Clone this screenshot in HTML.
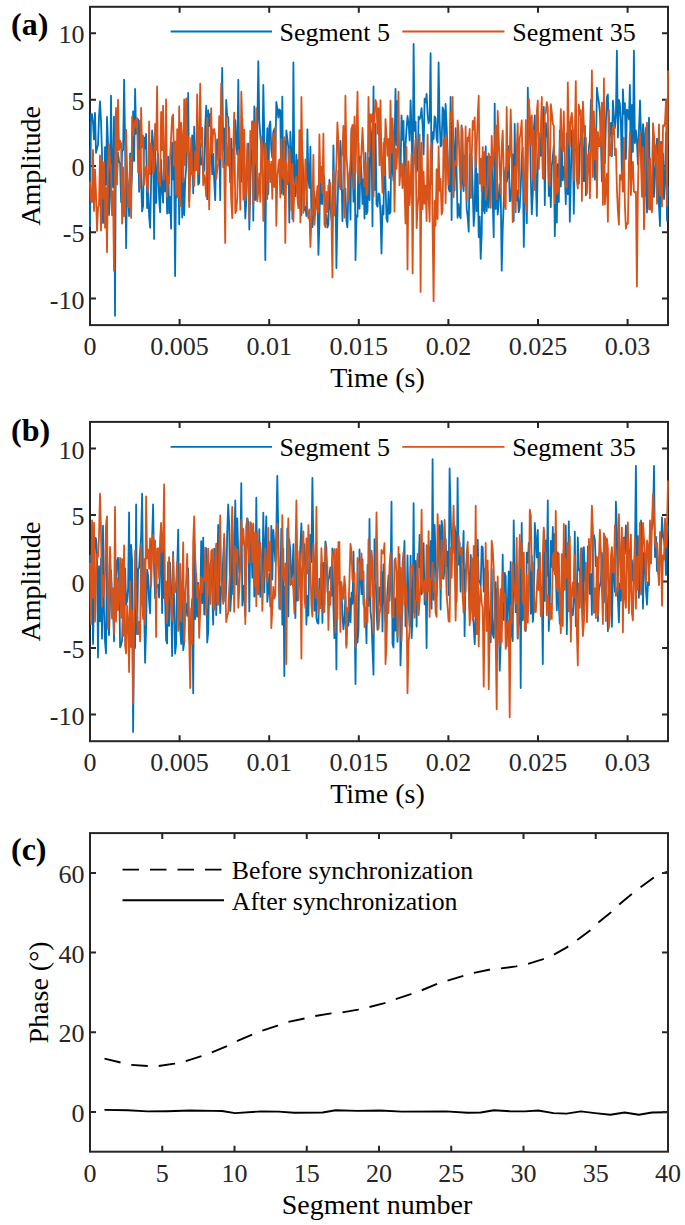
<!DOCTYPE html>
<html><head><meta charset="utf-8"><style>html,body{margin:0;padding:0;background:#fff;width:685px;height:1225px;overflow:hidden}svg{display:block}text{font-family:"Liberation Serif",serif}</style></head>
<body><svg width="685" height="1225" viewBox="0 0 685 1225" font-family='"Liberation Serif", serif'><rect x="90.0" y="6.8" width="578.0" height="318.3" fill="none" stroke="#262626" stroke-width="2"/><path d="M179.60 325.10v-6M179.60 6.80v6M269.20 325.10v-6M269.20 6.80v6M358.80 325.10v-6M358.80 6.80v6M448.40 325.10v-6M448.40 6.80v6M538.00 325.10v-6M538.00 6.80v6M627.60 325.10v-6M627.60 6.80v6M90.00 298.58h6M668.00 298.58h-6M90.00 232.26h6M668.00 232.26h-6M90.00 165.95h6M668.00 165.95h-6M90.00 99.64h6M668.00 99.64h-6M90.00 33.33h6M668.00 33.33h-6" stroke="#262626" stroke-width="2" fill="none"/><svg x="88.5" y="5.3" width="581.0" height="321.3" viewBox="88.5 5.3 581.0 321.3" overflow="hidden"><polyline points="90.0,227.0 91.0,114.2 92.0,114.2 93.0,122.6 94.0,139.4 95.0,112.8 96.0,152.7 97.0,148.7 98.0,144.7 99.0,116.7 100.0,101.4 101.0,120.9 102.0,153.2 103.0,223.0 104.0,202.0 105.0,147.2 106.0,185.0 107.0,116.9 108.0,142.7 109.0,215.0 110.0,195.6 111.0,95.7 112.0,170.2 113.0,187.0 114.0,116.7 115.0,315.8 116.0,113.8 117.0,178.2 118.0,152.8 119.1,161.8 120.1,163.2 121.1,202.0 122.1,151.6 123.1,150.1 124.1,79.7 125.1,142.3 126.1,248.2 127.1,177.0 128.1,190.1 129.1,216.0 130.1,153.3 131.1,191.0 132.1,171.5 133.1,111.3 134.1,160.9 135.1,89.0 136.1,133.9 137.1,130.0 138.1,119.2 139.1,191.8 140.1,120.4 141.1,179.0 142.1,211.4 143.1,206.2 144.1,137.4 145.1,148.5 146.1,134.0 147.1,208.0 148.1,190.7 149.1,215.4 150.1,227.8 151.1,180.8 152.1,130.4 153.1,142.4 154.1,238.9 155.1,142.0 156.1,202.9 157.1,172.0 158.1,154.1 159.1,198.5 160.1,212.2 161.1,159.9 162.1,190.3 163.1,202.7 164.1,160.2 165.1,191.4 166.1,169.1 167.1,213.6 168.1,156.6 169.1,213.0 170.1,196.8 171.1,228.6 172.1,142.7 173.1,179.3 174.1,165.4 175.1,276.0 176.1,176.8 177.2,196.5 178.2,141.1 179.2,224.3 180.2,168.9 181.2,144.8 182.2,217.5 183.2,177.8 184.2,215.1 185.2,179.9 186.2,167.7 187.2,134.8 188.2,93.0 189.2,200.5 190.2,153.6 191.2,173.9 192.2,135.3 193.2,193.3 194.2,126.7 195.2,162.4 196.2,158.3 197.2,131.8 198.2,184.7 199.2,182.8 200.2,143.7 201.2,164.4 202.2,158.1 203.2,174.0 204.2,169.1 205.2,127.0 206.2,105.7 207.2,199.2 208.2,110.1 209.2,126.2 210.2,114.0 211.2,142.0 212.2,174.3 213.2,153.9 214.2,180.4 215.2,200.2 216.2,151.1 217.2,139.4 218.2,159.9 219.2,142.9 220.2,200.2 221.2,118.1 222.2,67.8 223.2,150.6 224.2,128.3 225.2,174.4 226.2,99.8 227.2,116.5 228.2,117.2 229.2,149.9 230.2,182.4 231.2,138.6 232.2,184.2 233.2,149.1 234.2,149.7 235.3,120.2 236.3,143.4 237.3,154.6 238.3,79.7 239.3,165.9 240.3,181.9 241.3,181.7 242.3,118.7 243.3,162.5 244.3,185.6 245.3,218.5 246.3,201.1 247.3,153.9 248.3,143.7 249.3,229.6 250.3,189.6 251.3,145.1 252.3,121.9 253.3,220.7 254.3,106.3 255.3,200.0 256.3,199.5 257.3,128.5 258.3,61.2 259.3,120.7 260.3,135.4 261.3,146.7 262.3,162.3 263.3,85.0 264.3,135.4 265.3,260.1 266.3,162.3 267.3,128.2 268.3,194.0 269.3,125.6 270.3,121.5 271.3,149.7 272.3,157.8 273.3,132.1 274.3,129.0 275.3,159.9 276.3,101.9 277.3,108.1 278.3,117.6 279.3,109.4 280.3,110.6 281.3,193.4 282.3,96.6 283.3,194.7 284.3,141.0 285.3,189.3 286.3,130.4 287.3,138.2 288.3,146.9 289.3,222.6 290.3,131.7 291.3,152.0 292.4,218.8 293.4,62.5 294.4,173.1 295.4,196.2 296.4,154.6 297.4,192.5 298.4,159.8 299.4,190.0 300.4,208.1 301.4,215.4 302.4,152.6 303.4,180.2 304.4,210.2 305.4,206.9 306.4,216.1 307.4,129.5 308.4,178.9 309.4,188.0 310.4,146.6 311.4,217.1 312.4,227.1 313.4,213.7 314.4,191.7 315.4,204.0 316.4,207.9 317.4,190.9 318.4,254.8 319.4,225.0 320.4,168.3 321.4,203.6 322.4,204.0 323.4,175.0 324.4,178.0 325.4,223.6 326.4,214.9 327.4,227.6 328.4,224.2 329.4,179.8 330.4,206.7 331.4,218.0 332.4,225.0 333.4,145.3 334.4,202.8 335.4,179.4 336.4,268.1 337.4,216.0 338.4,170.4 339.4,181.4 340.4,140.9 341.4,163.5 342.4,221.1 343.4,190.4 344.4,189.8 345.4,188.5 346.4,220.8 347.4,227.4 348.4,190.3 349.4,172.4 350.5,219.7 351.5,128.1 352.5,160.7 353.5,201.8 354.5,124.8 355.5,260.1 356.5,215.5 357.5,216.8 358.5,143.2 359.5,208.7 360.5,157.0 361.5,174.7 362.5,203.9 363.5,179.1 364.5,218.5 365.5,153.0 366.5,214.2 367.5,211.4 368.5,157.9 369.5,200.0 370.5,126.6 371.5,137.0 372.5,226.3 373.5,86.4 374.5,190.0 375.5,123.8 376.5,204.1 377.5,206.6 378.5,193.4 379.5,194.3 380.5,214.8 381.5,253.5 382.5,205.7 383.5,214.5 384.5,138.5 385.5,183.4 386.5,218.3 387.5,221.9 388.5,191.6 389.5,213.8 390.5,212.0 391.5,130.0 392.5,169.4 393.5,180.7 394.5,148.7 395.5,89.0 396.5,145.1 397.5,101.0 398.5,141.4 399.5,158.4 400.5,173.8 401.5,115.3 402.5,139.8 403.5,120.8 404.5,184.2 405.5,146.1 406.5,129.1 407.5,116.0 408.6,123.3 409.6,140.4 410.6,100.3 411.6,131.1 412.6,189.7 413.6,43.9 414.6,130.8 415.6,121.7 416.6,171.8 417.6,167.9 418.6,116.7 419.6,119.3 420.6,116.2 421.6,108.1 422.6,125.6 423.6,154.4 424.6,98.7 425.6,102.3 426.6,93.9 427.6,114.3 428.6,123.3 429.6,120.3 430.6,53.2 431.6,183.5 432.6,132.1 433.6,139.0 434.6,116.4 435.6,118.1 436.6,138.2 437.6,142.7 438.6,62.5 439.6,119.8 440.6,146.4 441.6,145.4 442.6,107.3 443.6,110.0 444.6,153.9 445.6,104.0 446.6,125.1 447.6,150.5 448.6,188.5 449.6,191.5 450.6,97.0 451.6,220.1 452.6,119.6 453.6,148.4 454.6,190.4 455.6,128.2 456.6,170.7 457.6,217.8 458.6,204.1 459.6,215.4 460.6,218.3 461.6,125.3 462.6,180.2 463.6,191.2 464.6,155.7 465.6,164.1 466.7,208.8 467.7,217.0 468.7,231.7 469.7,154.5 470.7,197.7 471.7,156.5 472.7,189.1 473.7,226.0 474.7,210.5 475.7,141.2 476.7,211.1 477.7,173.8 478.7,237.0 479.7,216.7 480.7,258.8 481.7,234.2 482.7,156.0 483.7,209.9 484.7,213.3 485.7,146.4 486.7,211.0 487.7,156.3 488.7,207.6 489.7,181.3 490.7,157.7 491.7,155.6 492.7,201.2 493.7,237.2 494.7,103.6 495.7,209.0 496.7,146.5 497.7,214.5 498.7,203.3 499.7,184.1 500.7,188.3 501.7,270.7 502.7,229.3 503.7,204.1 504.7,174.4 505.7,167.6 506.7,182.1 507.7,175.4 508.7,146.2 509.7,201.2 510.7,200.7 511.7,184.8 512.7,154.4 513.7,221.1 514.7,123.9 515.7,191.7 516.7,200.3 517.7,190.3 518.7,212.2 519.7,207.6 520.7,187.9 521.7,157.3 522.7,147.7 523.8,246.9 524.8,184.7 525.8,155.7 526.8,223.2 527.8,87.7 528.8,135.7 529.8,122.0 530.8,179.6 531.8,214.2 532.8,193.7 533.8,129.9 534.8,115.5 535.8,177.4 536.8,215.9 537.8,164.6 538.8,141.9 539.8,138.1 540.8,155.8 541.8,110.0 542.8,169.6 543.8,106.8 544.8,205.2 545.8,122.9 546.8,130.6 547.8,138.8 548.8,195.9 549.8,173.3 550.8,207.1 551.8,165.9 552.8,156.5 553.8,145.9 554.8,236.2 555.8,193.3 556.8,222.5 557.8,164.1 558.8,202.1 559.8,130.5 560.8,186.5 561.8,147.0 562.8,180.4 563.8,166.9 564.8,173.2 565.8,204.2 566.8,133.5 567.8,194.2 568.8,121.4 569.8,221.7 570.8,179.5 571.8,130.9 572.8,129.7 573.8,213.7 574.8,150.4 575.8,150.3 576.8,146.2 577.8,170.0 578.8,183.7 579.8,147.0 580.8,133.3 581.9,120.7 582.9,155.0 583.9,181.2 584.9,125.7 585.9,195.3 586.9,174.9 587.9,171.8 588.9,147.5 589.9,139.9 590.9,99.9 591.9,123.5 592.9,114.6 593.9,157.5 594.9,179.6 595.9,154.4 596.9,87.7 597.9,96.2 598.9,102.3 599.9,112.9 600.9,140.5 601.9,181.2 602.9,148.3 603.9,158.9 604.9,163.2 605.9,121.9 606.9,97.1 607.9,94.4 608.9,140.7 609.9,130.1 610.9,122.8 611.9,156.1 612.9,100.7 613.9,116.0 614.9,128.1 615.9,114.5 616.9,50.6 617.9,137.4 618.9,100.0 619.9,104.0 620.9,123.4 621.9,175.3 622.9,89.5 623.9,113.9 624.9,103.1 625.9,159.1 626.9,109.7 627.9,110.8 628.9,119.4 629.9,85.0 630.9,189.4 631.9,104.9 632.9,151.8 633.9,50.6 634.9,143.1 635.9,130.3 636.9,140.1 637.9,164.4 638.9,131.9 640.0,100.5 641.0,133.8 642.0,174.2 643.0,124.1 644.0,134.4 645.0,196.0 646.0,128.0 647.0,212.4 648.0,150.6 649.0,117.7 650.0,209.3 651.0,187.3 652.0,199.2 653.0,128.0 654.0,196.9 655.0,175.6 656.0,157.2 657.0,138.7 658.0,147.6 659.0,206.3 660.0,226.1 661.0,141.6 662.0,174.4 663.0,153.4 664.0,199.0 665.0,178.4 666.0,132.7 667.0,220.7 668.0,186.5" fill="none" stroke="#0072BD" stroke-width="1.8" stroke-linejoin="round" /><polyline points="90.0,181.9 91.0,200.1 92.0,202.2 93.0,150.0 94.0,211.0 95.0,169.6 96.0,193.9 97.0,230.9 98.0,208.4 99.0,204.4 100.0,155.3 101.0,230.6 102.0,161.0 103.0,198.4 104.0,162.2 105.0,227.7 106.0,187.1 107.0,252.2 108.0,177.3 109.0,144.2 110.0,161.4 111.0,166.8 112.0,215.2 113.0,191.4 114.0,270.7 115.0,180.6 116.0,107.9 117.0,184.6 118.0,99.6 119.1,150.0 120.1,140.7 121.1,143.5 122.1,223.5 123.1,167.5 124.1,216.4 125.1,214.6 126.1,129.6 127.1,170.1 128.1,205.7 129.1,207.3 130.1,157.8 131.1,217.9 132.1,116.9 133.1,135.5 134.1,126.8 135.1,120.5 136.1,127.7 137.1,118.0 138.1,172.2 139.1,150.6 140.1,187.8 141.1,107.8 142.1,147.4 143.1,135.7 144.1,184.7 145.1,169.5 146.1,166.7 147.1,186.1 148.1,192.2 149.1,121.4 150.1,174.3 151.1,143.5 152.1,152.6 153.1,173.4 154.1,168.7 155.1,124.0 156.1,150.1 157.1,86.4 158.1,181.8 159.1,173.5 160.1,186.2 161.1,111.9 162.1,150.1 163.1,105.7 164.1,179.7 165.1,171.2 166.1,99.5 167.1,196.8 168.1,176.1 169.1,183.6 170.1,157.3 171.1,137.7 172.1,117.4 173.1,114.6 174.1,165.8 175.1,141.4 176.1,194.5 177.2,129.1 178.2,198.2 179.2,106.3 180.2,206.2 181.2,122.7 182.2,139.5 183.2,182.2 184.2,99.3 185.2,165.2 186.2,98.4 187.2,152.1 188.2,136.5 189.2,207.0 190.2,170.7 191.2,137.9 192.2,175.5 193.2,172.5 194.2,185.9 195.2,151.9 196.2,170.1 197.2,94.3 198.2,174.0 199.2,141.5 200.2,83.7 201.2,146.5 202.2,127.7 203.2,185.2 204.2,174.8 205.2,183.2 206.2,196.4 207.2,117.8 208.2,144.0 209.2,209.4 210.2,152.5 211.2,108.1 212.2,153.6 213.2,129.3 214.2,129.2 215.2,135.7 216.2,179.0 217.2,170.3 218.2,163.3 219.2,116.2 220.2,158.4 221.2,83.7 222.2,123.8 223.2,167.3 224.2,165.4 225.2,242.9 226.2,116.1 227.2,164.4 228.2,165.7 229.2,127.6 230.2,160.0 231.2,199.0 232.2,218.0 233.2,152.2 234.2,112.6 235.3,213.1 236.3,210.9 237.3,196.8 238.3,150.2 239.3,159.7 240.3,209.7 241.3,91.7 242.3,126.7 243.3,199.5 244.3,129.7 245.3,200.2 246.3,187.6 247.3,143.7 248.3,166.4 249.3,218.9 250.3,130.8 251.3,149.2 252.3,121.2 253.3,204.9 254.3,122.8 255.3,162.4 256.3,108.2 257.3,201.3 258.3,192.0 259.3,173.4 260.3,201.9 261.3,137.4 262.3,147.0 263.3,220.9 264.3,182.3 265.3,143.6 266.3,152.5 267.3,199.1 268.3,160.8 269.3,163.9 270.3,182.1 271.3,161.7 272.3,198.8 273.3,134.0 274.3,187.1 275.3,127.2 276.3,225.8 277.3,178.3 278.3,165.7 279.3,159.4 280.3,197.6 281.3,139.1 282.3,173.8 283.3,178.9 284.3,137.2 285.3,242.9 286.3,162.6 287.3,184.2 288.3,180.9 289.3,149.1 290.3,166.1 291.3,210.1 292.4,163.8 293.4,221.5 294.4,185.0 295.4,183.0 296.4,176.9 297.4,197.8 298.4,208.2 299.4,130.1 300.4,222.4 301.4,97.0 302.4,161.0 303.4,212.9 304.4,201.4 305.4,159.5 306.4,182.7 307.4,211.2 308.4,218.5 309.4,209.5 310.4,246.9 311.4,219.4 312.4,207.5 313.4,154.8 314.4,224.8 315.4,211.1 316.4,204.7 317.4,186.2 318.4,212.3 319.4,134.5 320.4,182.5 321.4,166.6 322.4,192.6 323.4,133.6 324.4,224.1 325.4,227.1 326.4,192.0 327.4,212.0 328.4,185.5 329.4,188.7 330.4,183.1 331.4,214.4 332.4,277.4 333.4,170.5 334.4,215.4 335.4,184.3 336.4,164.2 337.4,122.3 338.4,143.3 339.4,184.5 340.4,189.3 341.4,157.3 342.4,151.6 343.4,126.0 344.4,217.7 345.4,95.7 346.4,154.5 347.4,170.3 348.4,200.8 349.4,178.6 350.5,160.8 351.5,130.1 352.5,125.0 353.5,188.6 354.5,116.6 355.5,172.9 356.5,133.7 357.5,91.7 358.5,161.5 359.5,182.9 360.5,163.9 361.5,151.6 362.5,128.0 363.5,152.1 364.5,186.5 365.5,161.5 366.5,195.2 367.5,192.3 368.5,96.8 369.5,151.2 370.5,114.3 371.5,121.9 372.5,113.9 373.5,196.7 374.5,118.0 375.5,99.9 376.5,103.2 377.5,133.7 378.5,108.2 379.5,165.3 380.5,100.2 381.5,164.9 382.5,192.6 383.5,142.9 384.5,175.3 385.5,119.1 386.5,135.1 387.5,155.8 388.5,138.8 389.5,178.0 390.5,100.6 391.5,152.7 392.5,118.3 393.5,141.7 394.5,211.7 395.5,148.9 396.5,168.8 397.5,145.5 398.5,91.7 399.5,185.3 400.5,170.4 401.5,163.7 402.5,188.2 403.5,162.8 404.5,186.9 405.5,223.4 406.5,146.8 407.5,269.4 408.6,161.4 409.6,205.0 410.6,182.2 411.6,153.3 412.6,273.4 413.6,169.5 414.6,153.1 415.6,139.0 416.6,228.1 417.6,207.3 418.6,194.7 419.6,134.4 420.6,291.9 421.6,142.9 422.6,209.0 423.6,171.7 424.6,203.6 425.6,185.4 426.6,221.0 427.6,134.7 428.6,196.6 429.6,221.7 430.6,152.9 431.6,143.7 432.6,226.7 433.6,301.2 434.6,200.8 435.6,225.9 436.6,169.1 437.6,219.0 438.6,146.3 439.6,190.9 440.6,178.9 441.6,214.5 442.6,210.7 443.6,140.0 444.6,138.1 445.6,203.3 446.6,135.9 447.6,165.1 448.6,184.7 449.6,164.0 450.6,112.5 451.6,120.9 452.6,97.0 453.6,197.3 454.6,164.5 455.6,161.0 456.6,165.4 457.6,120.4 458.6,130.8 459.6,165.8 460.6,189.0 461.6,127.2 462.6,132.0 463.6,178.9 464.6,185.9 465.6,126.5 466.7,200.7 467.7,137.4 468.7,141.0 469.7,129.0 470.7,197.9 471.7,158.7 472.7,120.8 473.7,129.5 474.7,117.5 475.7,167.2 476.7,146.1 477.7,117.3 478.7,95.7 479.7,183.7 480.7,158.8 481.7,191.7 482.7,147.1 483.7,185.6 484.7,152.0 485.7,199.8 486.7,193.1 487.7,185.6 488.7,153.3 489.7,159.5 490.7,207.8 491.7,135.8 492.7,167.7 493.7,157.7 494.7,145.6 495.7,125.2 496.7,199.4 497.7,110.9 498.7,136.1 499.7,168.4 500.7,193.7 501.7,147.5 502.7,130.6 503.7,169.9 504.7,206.0 505.7,209.2 506.7,107.2 507.7,170.4 508.7,150.9 509.7,157.3 510.7,109.5 511.7,152.9 512.7,222.0 513.7,192.4 514.7,166.7 515.7,212.3 516.7,150.8 517.7,123.5 518.7,193.7 519.7,137.9 520.7,132.6 521.7,120.5 522.7,166.8 523.8,181.5 524.8,202.4 525.8,120.1 526.8,211.6 527.8,160.6 528.8,98.6 529.8,115.1 530.8,144.6 531.8,115.4 532.8,179.7 533.8,130.2 534.8,190.2 535.8,160.3 536.8,112.1 537.8,100.5 538.8,168.8 539.8,133.9 540.8,131.7 541.8,97.0 542.8,178.2 543.8,179.0 544.8,114.5 545.8,112.5 546.8,102.1 547.8,107.8 548.8,180.4 549.8,186.0 550.8,104.1 551.8,112.3 552.8,123.8 553.8,125.7 554.8,203.3 555.8,156.2 556.8,193.9 557.8,178.6 558.8,191.6 559.8,149.5 560.8,109.1 561.8,146.8 562.8,151.2 563.8,111.4 564.8,165.6 565.8,186.6 566.8,187.6 567.8,82.4 568.8,138.3 569.8,146.7 570.8,119.1 571.8,112.8 572.8,127.9 573.8,180.2 574.8,136.6 575.8,81.1 576.8,180.0 577.8,188.5 578.8,104.6 579.8,114.7 580.8,110.1 581.9,201.0 582.9,101.6 583.9,124.9 584.9,135.8 585.9,137.8 586.9,193.7 587.9,155.9 588.9,153.0 589.9,198.2 590.9,149.9 591.9,70.5 592.9,177.1 593.9,111.3 594.9,159.7 595.9,128.7 596.9,197.8 597.9,132.0 598.9,146.2 599.9,146.1 600.9,114.6 601.9,102.6 602.9,204.9 603.9,78.4 604.9,204.3 605.9,188.6 606.9,173.7 607.9,221.8 608.9,109.5 609.9,155.7 610.9,155.0 611.9,138.8 612.9,127.3 613.9,125.6 614.9,155.1 615.9,148.8 616.9,188.6 617.9,210.9 618.9,224.7 619.9,175.2 620.9,179.6 621.9,171.7 622.9,191.7 623.9,137.7 624.9,205.6 625.9,228.6 626.9,223.2 627.9,223.8 628.9,164.4 629.9,132.6 630.9,195.0 631.9,172.2 632.9,161.8 633.9,191.4 634.9,192.5 635.9,191.8 636.9,286.6 637.9,190.6 638.9,145.1 640.0,132.0 641.0,164.2 642.0,196.8 643.0,147.1 644.0,229.2 645.0,190.6 646.0,135.4 647.0,122.7 648.0,170.4 649.0,209.3 650.0,158.4 651.0,208.0 652.0,212.3 653.0,123.2 654.0,135.5 655.0,162.3 656.0,145.2 657.0,203.8 658.0,180.1 659.0,124.3 660.0,195.4 661.0,144.2 662.0,206.5 663.0,125.5 664.0,126.3 665.0,122.8 666.0,100.0 667.0,205.7 668.0,70.5" fill="none" stroke="#D95319" stroke-width="1.8" stroke-linejoin="round" /></svg><path d="M170.6 31.5H272" stroke="#0072BD" stroke-width="1.8"/><path d="M402.3 31.5H504.5" stroke="#D95319" stroke-width="1.8"/><text x="279.50" y="41.00" font-size="26" text-anchor="start" font-weight="normal" fill="#000" >Segment 5</text><text x="512.30" y="41.00" font-size="26" text-anchor="start" font-weight="normal" fill="#000" >Segment 35</text><text x="90.00" y="355.00" font-size="26" text-anchor="middle" font-weight="normal" fill="#262626" >0</text><text x="179.60" y="355.00" font-size="26" text-anchor="middle" font-weight="normal" fill="#262626" >0.005</text><text x="269.20" y="355.00" font-size="26" text-anchor="middle" font-weight="normal" fill="#262626" >0.01</text><text x="358.80" y="355.00" font-size="26" text-anchor="middle" font-weight="normal" fill="#262626" >0.015</text><text x="448.40" y="355.00" font-size="26" text-anchor="middle" font-weight="normal" fill="#262626" >0.02</text><text x="538.00" y="355.00" font-size="26" text-anchor="middle" font-weight="normal" fill="#262626" >0.025</text><text x="627.60" y="355.00" font-size="26" text-anchor="middle" font-weight="normal" fill="#262626" >0.03</text><text x="84.50" y="308.58" font-size="26" text-anchor="end" font-weight="normal" fill="#262626" >-10</text><text x="84.50" y="242.26" font-size="26" text-anchor="end" font-weight="normal" fill="#262626" >-5</text><text x="84.50" y="175.95" font-size="26" text-anchor="end" font-weight="normal" fill="#262626" >0</text><text x="84.50" y="109.64" font-size="26" text-anchor="end" font-weight="normal" fill="#262626" >5</text><text x="84.50" y="43.33" font-size="26" text-anchor="end" font-weight="normal" fill="#262626" >10</text><text x="377.50" y="387.00" font-size="28" text-anchor="middle" font-weight="normal" fill="#000" >Time (s)</text><text x="40.00" y="165.95" font-size="28" text-anchor="middle" font-weight="normal" fill="#000" transform="rotate(-90 40 165.95)">Amplitude</text><text x="11.00" y="35.00" font-size="32" text-anchor="start" font-weight="bold" fill="#000" >(a)</text><rect x="90.0" y="421.9" width="578.0" height="319.30000000000007" fill="none" stroke="#262626" stroke-width="2"/><path d="M179.60 741.20v-6M179.60 421.90v6M269.20 741.20v-6M269.20 421.90v6M358.80 741.20v-6M358.80 421.90v6M448.40 741.20v-6M448.40 421.90v6M538.00 741.20v-6M538.00 421.90v6M627.60 741.20v-6M627.60 421.90v6M90.00 714.59h6M668.00 714.59h-6M90.00 648.07h6M668.00 648.07h-6M90.00 581.55h6M668.00 581.55h-6M90.00 515.03h6M668.00 515.03h-6M90.00 448.51h6M668.00 448.51h-6" stroke="#262626" stroke-width="2" fill="none"/><svg x="88.5" y="420.4" width="581.0" height="322.30000000000007" viewBox="88.5 420.4 581.0 322.30000000000007" overflow="hidden"><polyline points="90.0,554.9 91.0,594.9 92.0,566.4 93.0,644.1 94.0,601.4 95.0,537.6 96.0,538.5 97.0,553.8 98.0,657.4 99.0,566.2 100.0,621.3 101.0,558.5 102.0,638.7 103.0,525.7 104.0,611.2 105.0,641.4 106.0,653.4 107.0,546.0 108.0,611.0 109.0,635.0 110.0,603.8 111.0,570.2 112.0,595.0 113.0,603.1 114.0,641.3 115.0,586.0 116.0,587.5 117.0,560.8 118.0,557.9 119.1,582.7 120.1,647.3 121.1,645.0 122.1,640.1 123.1,600.3 124.1,634.7 125.1,568.3 126.1,604.6 127.1,601.1 128.1,588.1 129.1,512.4 130.1,646.3 131.1,544.8 132.1,561.1 133.1,731.9 134.1,630.1 135.1,647.9 136.1,504.4 137.1,634.2 138.1,569.5 139.1,567.5 140.1,550.7 141.1,537.2 142.1,493.7 143.1,581.2 144.1,606.6 145.1,662.7 146.1,627.2 147.1,569.7 148.1,575.4 149.1,601.4 150.1,613.4 151.1,566.1 152.1,539.8 153.1,504.4 154.1,568.3 155.1,598.2 156.1,585.8 157.1,586.9 158.1,584.7 159.1,597.6 160.1,562.0 161.1,537.1 162.1,613.1 163.1,537.4 164.1,598.2 165.1,598.4 166.1,640.2 167.1,643.5 168.1,562.1 169.1,625.9 170.1,562.8 171.1,591.9 172.1,656.1 173.1,551.9 174.1,601.0 175.1,653.7 176.1,644.4 177.2,567.9 178.2,529.7 179.2,609.1 180.2,629.1 181.2,643.9 182.2,590.2 183.2,650.2 184.2,642.5 185.2,604.0 186.2,604.2 187.2,615.8 188.2,568.3 189.2,639.2 190.2,637.5 191.2,617.1 192.2,599.2 193.2,693.3 194.2,541.1 195.2,619.0 196.2,573.6 197.2,616.6 198.2,582.9 199.2,610.0 200.2,607.3 201.2,541.1 202.2,603.2 203.2,537.6 204.2,614.5 205.2,604.7 206.2,548.2 207.2,642.5 208.2,632.5 209.2,582.3 210.2,564.1 211.2,559.8 212.2,592.4 213.2,624.6 214.2,548.7 215.2,560.4 216.2,615.0 217.2,571.7 218.2,525.0 219.2,568.3 220.2,613.1 221.2,587.5 222.2,584.3 223.2,556.5 224.2,538.2 225.2,601.3 226.2,590.8 227.2,533.1 228.2,504.4 229.2,524.9 230.2,611.1 231.2,596.3 232.2,529.8 233.2,594.2 234.2,547.2 235.3,500.4 236.3,584.4 237.3,518.5 238.3,555.5 239.3,572.7 240.3,559.2 241.3,483.1 242.3,605.5 243.3,585.6 244.3,598.6 245.3,616.2 246.3,526.4 247.3,518.5 248.3,522.6 249.3,611.4 250.3,542.3 251.3,534.4 252.3,577.7 253.3,531.3 254.3,596.6 255.3,595.6 256.3,497.7 257.3,584.5 258.3,594.4 259.3,529.1 260.3,596.8 261.3,576.3 262.3,582.9 263.3,512.6 264.3,592.4 265.3,543.5 266.3,516.5 267.3,601.9 268.3,591.2 269.3,573.3 270.3,606.5 271.3,526.0 272.3,579.6 273.3,529.9 274.3,543.8 275.3,561.7 276.3,532.7 277.3,475.8 278.3,531.0 279.3,608.6 280.3,591.8 281.3,528.6 282.3,624.7 283.3,548.3 284.3,676.0 285.3,586.5 286.3,592.2 287.3,528.5 288.3,616.4 289.3,539.5 290.3,550.5 291.3,584.1 292.4,571.5 293.4,544.2 294.4,591.3 295.4,618.1 296.4,559.1 297.4,600.7 298.4,585.9 299.4,568.6 300.4,545.4 301.4,523.4 302.4,558.9 303.4,567.6 304.4,544.2 305.4,562.0 306.4,624.6 307.4,595.9 308.4,615.6 309.4,549.6 310.4,534.9 311.4,562.0 312.4,477.8 313.4,548.2 314.4,610.8 315.4,567.7 316.4,618.1 317.4,622.8 318.4,623.6 319.4,578.7 320.4,604.2 321.4,563.9 322.4,622.9 323.4,563.0 324.4,604.7 325.4,541.4 326.4,547.7 327.4,591.7 328.4,579.7 329.4,575.1 330.4,567.4 331.4,595.8 332.4,548.3 333.4,605.2 334.4,638.1 335.4,578.0 336.4,669.4 337.4,558.3 338.4,566.7 339.4,584.5 340.4,585.9 341.4,585.6 342.4,614.3 343.4,629.3 344.4,619.9 345.4,595.9 346.4,645.2 347.4,609.3 348.4,625.8 349.4,597.8 350.5,622.1 351.5,592.7 352.5,603.8 353.5,551.7 354.5,608.3 355.5,684.0 356.5,595.3 357.5,642.5 358.5,630.0 359.5,549.5 360.5,577.7 361.5,594.2 362.5,559.4 363.5,604.5 364.5,607.1 365.5,609.2 366.5,643.2 367.5,564.9 368.5,605.9 369.5,519.0 370.5,611.3 371.5,621.1 372.5,648.7 373.5,674.7 374.5,539.1 375.5,565.1 376.5,611.0 377.5,629.8 378.5,600.2 379.5,587.5 380.5,606.0 381.5,571.5 382.5,631.4 383.5,564.5 384.5,596.8 385.5,621.2 386.5,613.0 387.5,590.3 388.5,575.5 389.5,601.0 390.5,581.9 391.5,501.7 392.5,643.8 393.5,647.6 394.5,598.1 395.5,630.7 396.5,596.1 397.5,641.8 398.5,594.2 399.5,554.2 400.5,665.4 401.5,631.3 402.5,608.3 403.5,564.4 404.5,540.9 405.5,626.3 406.5,623.3 407.5,555.3 408.6,607.0 409.6,626.4 410.6,555.7 411.6,638.1 412.6,615.6 413.6,503.1 414.6,612.5 415.6,560.8 416.6,626.6 417.6,558.0 418.6,567.2 419.6,534.8 420.6,591.8 421.6,594.5 422.6,583.5 423.6,543.2 424.6,604.4 425.6,581.4 426.6,648.1 427.6,546.3 428.6,546.8 429.6,590.5 430.6,540.8 431.6,608.7 432.6,459.2 433.6,599.8 434.6,525.0 435.6,557.2 436.6,595.8 437.6,574.2 438.6,544.3 439.6,525.1 440.6,609.6 441.6,520.9 442.6,527.7 443.6,578.9 444.6,568.2 445.6,538.7 446.6,566.1 447.6,551.7 448.6,595.0 449.6,468.5 450.6,511.4 451.6,554.2 452.6,553.3 453.6,544.8 454.6,525.6 455.6,534.8 456.6,601.8 457.6,477.8 458.6,564.6 459.6,542.4 460.6,591.7 461.6,556.2 462.6,562.7 463.6,530.9 464.6,636.2 465.6,571.1 466.7,562.4 467.7,551.9 468.7,577.5 469.7,608.0 470.7,554.9 471.7,566.2 472.7,611.2 473.7,625.5 474.7,644.1 475.7,615.1 476.7,562.0 477.7,539.6 478.7,580.6 479.7,581.0 480.7,586.2 481.7,546.5 482.7,547.2 483.7,591.5 484.7,568.4 485.7,595.4 486.7,615.7 487.7,571.2 488.7,603.9 489.7,628.7 490.7,642.2 491.7,568.8 492.7,634.0 493.7,637.9 494.7,616.7 495.7,582.1 496.7,649.0 497.7,588.1 498.7,598.2 499.7,670.7 500.7,643.5 501.7,619.6 502.7,554.6 503.7,620.1 504.7,572.9 505.7,576.2 506.7,646.6 507.7,607.5 508.7,571.3 509.7,621.8 510.7,562.0 511.7,634.8 512.7,641.1 513.7,520.4 514.7,575.2 515.7,612.2 516.7,564.0 517.7,638.6 518.7,615.4 519.7,548.3 520.7,688.0 521.7,523.0 522.7,620.4 523.8,615.2 524.8,600.2 525.8,630.9 526.8,552.6 527.8,562.6 528.8,542.8 529.8,575.6 530.8,613.8 531.8,555.9 532.8,621.9 533.8,609.8 534.8,523.0 535.8,539.5 536.8,557.3 537.8,530.0 538.8,584.9 539.8,552.8 540.8,603.8 541.8,587.1 542.8,664.0 543.8,530.7 544.8,600.9 545.8,540.3 546.8,575.8 547.8,500.4 548.8,630.9 549.8,601.9 550.8,540.8 551.8,566.8 552.8,526.9 553.8,570.1 554.8,533.9 555.8,567.9 556.8,610.3 557.8,552.3 558.8,605.5 559.8,623.6 560.8,606.1 561.8,593.7 562.8,569.5 563.8,549.3 564.8,557.1 565.8,525.4 566.8,634.2 567.8,587.1 568.8,521.3 569.8,592.6 570.8,622.2 571.8,608.5 572.8,615.1 573.8,600.0 574.8,531.6 575.8,626.1 576.8,607.5 577.8,537.4 578.8,570.3 579.8,568.8 580.8,595.5 581.9,548.1 582.9,616.0 583.9,547.2 584.9,575.3 585.9,587.1 586.9,599.7 587.9,546.5 588.9,566.2 589.9,593.8 590.9,574.0 591.9,614.8 592.9,537.4 593.9,535.0 594.9,540.2 595.9,566.2 596.9,558.0 597.9,621.2 598.9,590.4 599.9,585.5 600.9,580.9 601.9,552.8 602.9,592.1 603.9,602.4 604.9,536.6 605.9,586.5 606.9,598.4 607.9,631.1 608.9,619.1 609.9,582.6 610.9,563.3 611.9,626.8 612.9,573.8 613.9,560.7 614.9,591.9 615.9,501.7 616.9,529.9 617.9,598.3 618.9,622.4 619.9,583.5 620.9,600.5 621.9,569.4 622.9,543.1 623.9,537.3 624.9,553.7 625.9,525.4 626.9,551.0 627.9,531.7 628.9,550.0 629.9,551.8 630.9,579.8 631.9,560.1 632.9,580.8 633.9,569.7 634.9,555.4 635.9,465.8 636.9,565.9 637.9,536.1 638.9,597.8 640.0,564.8 641.0,520.5 642.0,541.6 643.0,608.6 644.0,552.7 645.0,559.6 646.0,591.0 647.0,604.6 648.0,582.2 649.0,585.1 650.0,527.1 651.0,530.4 652.0,528.8 653.0,519.8 654.0,465.8 655.0,557.0 656.0,536.8 657.0,571.0 658.0,569.5 659.0,575.5 660.0,542.0 661.0,549.4 662.0,517.4 663.0,535.3 664.0,540.6 665.0,548.2 666.0,575.0 667.0,543.4 668.0,524.7" fill="none" stroke="#0072BD" stroke-width="1.8" stroke-linejoin="round" /><polyline points="90.0,562.9 91.0,624.1 92.0,520.4 93.0,597.7 94.0,522.7 95.0,621.5 96.0,579.1 97.0,554.9 98.0,556.9 99.0,536.2 100.0,493.7 101.0,530.6 102.0,606.8 103.0,575.5 104.0,595.9 105.0,574.4 106.0,524.9 107.0,516.4 108.0,628.8 109.0,608.4 110.0,546.9 111.0,576.9 112.0,618.5 113.0,588.4 114.0,633.9 115.0,507.0 116.0,621.6 117.0,577.8 118.0,610.2 119.1,598.0 120.1,557.8 121.1,617.9 122.1,558.9 123.1,635.9 124.1,545.3 125.1,645.9 126.1,653.5 127.1,605.7 128.1,621.4 129.1,672.0 130.1,581.5 131.1,647.0 132.1,610.3 133.1,703.9 134.1,619.2 135.1,550.8 136.1,600.3 137.1,614.9 138.1,634.2 139.1,622.0 140.1,641.3 141.1,545.6 142.1,599.3 143.1,618.9 144.1,558.9 145.1,624.5 146.1,496.4 147.1,558.5 148.1,549.6 149.1,568.6 150.1,538.3 151.1,586.3 152.1,554.6 153.1,534.8 154.1,562.6 155.1,540.3 156.1,637.0 157.1,548.8 158.1,548.3 159.1,578.0 160.1,539.5 161.1,522.8 162.1,552.3 163.1,547.5 164.1,484.4 165.1,601.9 166.1,581.5 167.1,622.9 168.1,589.2 169.1,557.1 170.1,596.1 171.1,602.6 172.1,620.6 173.1,555.5 174.1,593.0 175.1,592.1 176.1,581.5 177.2,561.6 178.2,631.0 179.2,616.8 180.2,563.9 181.2,621.7 182.2,590.8 183.2,542.3 184.2,642.0 185.2,597.5 186.2,579.7 187.2,553.9 188.2,604.3 189.2,639.7 190.2,688.0 191.2,608.5 192.2,643.9 193.2,541.5 194.2,516.4 195.2,557.1 196.2,577.5 197.2,597.7 198.2,584.6 199.2,637.8 200.2,611.0 201.2,576.9 202.2,592.4 203.2,578.2 204.2,580.8 205.2,547.7 206.2,615.2 207.2,576.9 208.2,548.7 209.2,593.6 210.2,604.1 211.2,551.5 212.2,549.5 213.2,605.2 214.2,609.8 215.2,562.3 216.2,543.7 217.2,602.5 218.2,604.8 219.2,553.1 220.2,515.5 221.2,580.4 222.2,589.0 223.2,603.8 224.2,534.0 225.2,580.0 226.2,622.2 227.2,616.0 228.2,612.8 229.2,588.3 230.2,571.9 231.2,543.8 232.2,507.0 233.2,548.0 234.2,611.8 235.3,546.7 236.3,562.4 237.3,549.4 238.3,607.7 239.3,589.0 240.3,563.8 241.3,519.8 242.3,544.9 243.3,529.0 244.3,545.7 245.3,624.1 246.3,557.8 247.3,518.3 248.3,545.5 249.3,562.5 250.3,522.1 251.3,523.5 252.3,562.0 253.3,523.7 254.3,586.0 255.3,532.6 256.3,606.2 257.3,531.3 258.3,592.5 259.3,546.7 260.3,542.6 261.3,558.1 262.3,610.8 263.3,579.1 264.3,568.6 265.3,548.5 266.3,575.9 267.3,582.2 268.3,527.8 269.3,571.1 270.3,541.9 271.3,628.1 272.3,609.5 273.3,587.0 274.3,598.6 275.3,595.4 276.3,540.2 277.3,523.5 278.3,557.8 279.3,590.7 280.3,609.4 281.3,593.7 282.3,515.2 283.3,575.6 284.3,581.9 285.3,563.5 286.3,664.0 287.3,564.7 288.3,518.5 289.3,560.8 290.3,585.2 291.3,579.0 292.4,580.8 293.4,590.0 294.4,613.3 295.4,556.6 296.4,500.4 297.4,569.6 298.4,600.2 299.4,551.1 300.4,569.8 301.4,658.7 302.4,547.3 303.4,531.4 304.4,596.1 305.4,608.1 306.4,538.3 307.4,573.6 308.4,525.2 309.4,552.8 310.4,568.0 311.4,605.1 312.4,616.6 313.4,543.9 314.4,568.6 315.4,598.0 316.4,507.0 317.4,592.4 318.4,613.5 319.4,590.1 320.4,608.2 321.4,548.2 322.4,573.2 323.4,612.4 324.4,611.8 325.4,544.7 326.4,559.5 327.4,567.0 328.4,629.9 329.4,591.8 330.4,604.9 331.4,571.9 332.4,559.3 333.4,552.6 334.4,549.2 335.4,632.8 336.4,548.9 337.4,619.0 338.4,542.4 339.4,541.9 340.4,631.9 341.4,581.9 342.4,592.9 343.4,598.8 344.4,576.4 345.4,588.3 346.4,647.7 347.4,608.1 348.4,611.1 349.4,581.7 350.5,543.9 351.5,551.5 352.5,579.6 353.5,582.1 354.5,572.9 355.5,647.7 356.5,623.1 357.5,557.9 358.5,563.3 359.5,561.9 360.5,579.9 361.5,553.4 362.5,579.0 363.5,571.4 364.5,627.1 365.5,622.4 366.5,599.5 367.5,622.1 368.5,539.5 369.5,569.7 370.5,596.7 371.5,550.7 372.5,561.5 373.5,633.8 374.5,586.2 375.5,577.1 376.5,512.4 377.5,566.1 378.5,629.2 379.5,614.8 380.5,606.3 381.5,549.8 382.5,553.4 383.5,553.3 384.5,543.2 385.5,664.0 386.5,645.2 387.5,595.8 388.5,613.1 389.5,566.1 390.5,553.4 391.5,590.0 392.5,617.3 393.5,617.4 394.5,560.8 395.5,558.1 396.5,573.3 397.5,636.8 398.5,547.0 399.5,613.8 400.5,567.8 401.5,640.4 402.5,563.4 403.5,552.1 404.5,604.5 405.5,582.8 406.5,592.6 407.5,693.3 408.6,642.3 409.6,630.1 410.6,566.7 411.6,567.2 412.6,564.9 413.6,576.8 414.6,617.7 415.6,601.9 416.6,599.3 417.6,553.8 418.6,615.1 419.6,601.0 420.6,580.7 421.6,509.7 422.6,592.8 423.6,588.8 424.6,580.2 425.6,600.7 426.6,545.2 427.6,591.7 428.6,531.1 429.6,616.9 430.6,581.2 431.6,576.9 432.6,562.7 433.6,592.1 434.6,581.8 435.6,612.9 436.6,616.8 437.6,514.1 438.6,546.4 439.6,566.0 440.6,588.6 441.6,540.2 442.6,578.4 443.6,564.3 444.6,520.0 445.6,552.1 446.6,594.4 447.6,606.5 448.6,621.2 449.6,621.8 450.6,547.6 451.6,577.8 452.6,540.9 453.6,505.7 454.6,555.3 455.6,620.5 456.6,581.4 457.6,555.4 458.6,536.0 459.6,549.0 460.6,554.9 461.6,547.7 462.6,595.4 463.6,612.8 464.6,597.1 465.6,590.2 466.7,552.3 467.7,542.0 468.7,589.3 469.7,625.3 470.7,610.0 471.7,558.1 472.7,619.9 473.7,546.0 474.7,616.0 475.7,505.7 476.7,634.2 477.7,557.2 478.7,646.4 479.7,600.0 480.7,587.5 481.7,603.6 482.7,607.2 483.7,686.7 484.7,612.6 485.7,542.9 486.7,630.9 487.7,560.5 488.7,689.3 489.7,633.3 490.7,619.9 491.7,540.7 492.7,549.1 493.7,568.3 494.7,613.9 495.7,640.9 496.7,709.3 497.7,576.5 498.7,633.5 499.7,645.9 500.7,589.1 501.7,641.9 502.7,572.1 503.7,602.2 504.7,593.4 505.7,648.9 506.7,625.9 507.7,621.4 508.7,620.4 509.7,717.3 510.7,605.7 511.7,623.6 512.7,562.7 513.7,582.4 514.7,594.0 515.7,603.6 516.7,537.9 517.7,637.4 518.7,612.9 519.7,534.8 520.7,567.8 521.7,543.5 522.7,602.6 523.8,552.6 524.8,630.6 525.8,627.6 526.8,574.9 527.8,622.6 528.8,591.4 529.8,509.7 530.8,515.7 531.8,570.8 532.8,562.3 533.8,588.6 534.8,611.8 535.8,612.0 536.8,590.9 537.8,569.6 538.8,590.0 539.8,553.1 540.8,616.1 541.8,615.4 542.8,556.3 543.8,527.6 544.8,550.4 545.8,552.3 546.8,615.2 547.8,595.2 548.8,607.0 549.8,620.1 550.8,604.0 551.8,618.9 552.8,556.1 553.8,552.9 554.8,574.3 555.8,511.0 556.8,586.4 557.8,590.9 558.8,553.6 559.8,607.3 560.8,633.1 561.8,554.2 562.8,626.0 563.8,524.0 564.8,589.8 565.8,559.7 566.8,577.6 567.8,543.0 568.8,611.3 569.8,536.3 570.8,641.7 571.8,593.6 572.8,582.4 573.8,598.0 574.8,554.9 575.8,593.1 576.8,629.4 577.8,665.4 578.8,583.5 579.8,607.8 580.8,548.5 581.9,610.5 582.9,636.0 583.9,623.0 584.9,593.8 585.9,562.8 586.9,622.1 587.9,591.2 588.9,538.9 589.9,572.5 590.9,547.4 591.9,505.7 592.9,529.2 593.9,612.8 594.9,588.4 595.9,618.0 596.9,556.8 597.9,615.6 598.9,557.8 599.9,529.6 600.9,552.2 601.9,589.3 602.9,624.0 603.9,533.3 604.9,537.4 605.9,621.0 606.9,538.5 607.9,548.2 608.9,628.2 609.9,614.1 610.9,556.2 611.9,547.2 612.9,571.5 613.9,572.4 614.9,525.3 615.9,596.0 616.9,591.3 617.9,586.7 618.9,514.2 619.9,553.5 620.9,588.9 621.9,527.6 622.9,632.3 623.9,538.7 624.9,597.5 625.9,607.8 626.9,546.7 627.9,522.5 628.9,613.2 629.9,587.9 630.9,534.6 631.9,613.1 632.9,620.5 633.9,573.9 634.9,538.5 635.9,608.7 636.9,556.9 637.9,589.6 638.9,557.0 640.0,522.6 641.0,594.5 642.0,566.3 643.0,522.8 644.0,538.7 645.0,555.7 646.0,582.3 647.0,540.5 648.0,545.9 649.0,581.8 650.0,520.5 651.0,563.6 652.0,522.0 653.0,493.7 654.0,513.9 655.0,541.4 656.0,547.3 657.0,542.9 658.0,568.3 659.0,585.1 660.0,531.8 661.0,550.1 662.0,605.7 663.0,555.2 664.0,559.5 665.0,518.6 666.0,547.3 667.0,527.0 668.0,480.4" fill="none" stroke="#D95319" stroke-width="1.8" stroke-linejoin="round" /></svg><path d="M170.6 446.8H272" stroke="#0072BD" stroke-width="1.8"/><path d="M402.3 446.8H504.5" stroke="#D95319" stroke-width="1.8"/><text x="279.50" y="456.30" font-size="26" text-anchor="start" font-weight="normal" fill="#000" >Segment 5</text><text x="512.30" y="456.30" font-size="26" text-anchor="start" font-weight="normal" fill="#000" >Segment 35</text><text x="90.00" y="771.00" font-size="26" text-anchor="middle" font-weight="normal" fill="#262626" >0</text><text x="179.60" y="771.00" font-size="26" text-anchor="middle" font-weight="normal" fill="#262626" >0.005</text><text x="269.20" y="771.00" font-size="26" text-anchor="middle" font-weight="normal" fill="#262626" >0.01</text><text x="358.80" y="771.00" font-size="26" text-anchor="middle" font-weight="normal" fill="#262626" >0.015</text><text x="448.40" y="771.00" font-size="26" text-anchor="middle" font-weight="normal" fill="#262626" >0.02</text><text x="538.00" y="771.00" font-size="26" text-anchor="middle" font-weight="normal" fill="#262626" >0.025</text><text x="627.60" y="771.00" font-size="26" text-anchor="middle" font-weight="normal" fill="#262626" >0.03</text><text x="84.50" y="724.59" font-size="26" text-anchor="end" font-weight="normal" fill="#262626" >-10</text><text x="84.50" y="658.07" font-size="26" text-anchor="end" font-weight="normal" fill="#262626" >-5</text><text x="84.50" y="591.55" font-size="26" text-anchor="end" font-weight="normal" fill="#262626" >0</text><text x="84.50" y="525.03" font-size="26" text-anchor="end" font-weight="normal" fill="#262626" >5</text><text x="84.50" y="458.51" font-size="26" text-anchor="end" font-weight="normal" fill="#262626" >10</text><text x="377.50" y="803.30" font-size="28" text-anchor="middle" font-weight="normal" fill="#000" >Time (s)</text><text x="40.00" y="581.55" font-size="28" text-anchor="middle" font-weight="normal" fill="#000" transform="rotate(-90 40 581.55)">Amplitude</text><text x="11.00" y="441.40" font-size="32" text-anchor="start" font-weight="bold" fill="#000" >(b)</text><polyline points="104.5,1058.6 121.9,1062.8 130.6,1064.8 148.1,1066.0 158.6,1066.0 174.4,1063.6 185.5,1061.3 201.6,1056.0 211.2,1052.6 227.0,1046.1 237.5,1040.9 252.7,1034.5 262.0,1030.7 277.5,1025.7 288.2,1021.9 304.8,1018.4 314.5,1016.1 331.1,1013.4 341.3,1012.6 358.2,1009.6 368.2,1007.3 384.5,1003.2 394.7,999.4 410.8,994.2 420.7,990.7 437.1,983.9 446.4,981.0 462.5,976.1 472.1,973.2 489.0,969.8 499.2,968.6 516.1,966.4 526.0,964.5 542.4,959.3 551.8,955.8 566.4,947.6 575.7,941.2 589.7,930.7 597.0,923.6 610.1,913.1 617.4,906.1 630.6,895.0 637.9,889.2 653.9,877.5 662.7,873.1 668.0,871.7" fill="none" stroke="#000" stroke-width="1.9" stroke-linejoin="round" stroke-dasharray="16.5 11"/><polyline points="104.5,1109.9 127.8,1110.3 147.5,1111.4 167.0,1111.2 190.0,1110.5 213.0,1110.9 222.0,1111.0 235.0,1113.1 261.3,1111.4 278.8,1111.6 294.1,1112.7 322.6,1112.5 335.7,1110.3 357.6,1110.9 380.0,1110.5 401.9,1111.6 445.7,1111.4 467.6,1112.7 480.7,1112.5 493.9,1110.3 511.4,1111.4 525.0,1111.4 538.1,1110.5 553.5,1113.1 566.6,1113.6 580.8,1111.4 595.0,1113.1 610.4,1114.7 624.6,1112.5 638.9,1114.7 652.0,1112.5 668.0,1112.3" fill="none" stroke="#000" stroke-width="1.9" stroke-linejoin="round" /><path d="M122.5 869.6H222" stroke="#000" stroke-width="1.9" stroke-dasharray="16.5 11"/><path d="M122.5 900.2H224" stroke="#000" stroke-width="1.9"/><text x="231.80" y="879.30" font-size="25.8" text-anchor="start" font-weight="normal" fill="#000" >Before synchronization</text><text x="231.80" y="909.80" font-size="25.8" text-anchor="start" font-weight="normal" fill="#000" >After synchronization</text><rect x="90.0" y="833.1" width="578.0" height="318.6" fill="none" stroke="#262626" stroke-width="2"/><path d="M162.25 1151.70v-6M162.25 833.10v6M234.50 1151.70v-6M234.50 833.10v6M306.75 1151.70v-6M306.75 833.10v6M379.00 1151.70v-6M379.00 833.10v6M451.25 1151.70v-6M451.25 833.10v6M523.50 1151.70v-6M523.50 833.10v6M595.75 1151.70v-6M595.75 833.10v6M90.00 1111.88h6M668.00 1111.88h-6M90.00 1032.23h6M668.00 1032.23h-6M90.00 952.58h6M668.00 952.58h-6M90.00 872.93h6M668.00 872.93h-6" stroke="#262626" stroke-width="2" fill="none"/><text x="90.00" y="1181.50" font-size="26" text-anchor="middle" font-weight="normal" fill="#262626" >0</text><text x="162.25" y="1181.50" font-size="26" text-anchor="middle" font-weight="normal" fill="#262626" >5</text><text x="234.50" y="1181.50" font-size="26" text-anchor="middle" font-weight="normal" fill="#262626" >10</text><text x="306.75" y="1181.50" font-size="26" text-anchor="middle" font-weight="normal" fill="#262626" >15</text><text x="379.00" y="1181.50" font-size="26" text-anchor="middle" font-weight="normal" fill="#262626" >20</text><text x="451.25" y="1181.50" font-size="26" text-anchor="middle" font-weight="normal" fill="#262626" >25</text><text x="523.50" y="1181.50" font-size="26" text-anchor="middle" font-weight="normal" fill="#262626" >30</text><text x="595.75" y="1181.50" font-size="26" text-anchor="middle" font-weight="normal" fill="#262626" >35</text><text x="668.00" y="1181.50" font-size="26" text-anchor="middle" font-weight="normal" fill="#262626" >40</text><text x="84.50" y="1121.88" font-size="26" text-anchor="end" font-weight="normal" fill="#262626" >0</text><text x="84.50" y="1042.23" font-size="26" text-anchor="end" font-weight="normal" fill="#262626" >20</text><text x="84.50" y="962.58" font-size="26" text-anchor="end" font-weight="normal" fill="#262626" >40</text><text x="84.50" y="882.93" font-size="26" text-anchor="end" font-weight="normal" fill="#262626" >60</text><text x="377.00" y="1213.50" font-size="28" text-anchor="middle" font-weight="normal" fill="#000" >Segment number</text><text x="48.30" y="992.40" font-size="28" text-anchor="middle" font-weight="normal" fill="#000" transform="rotate(-90 48.3 992.40)">Phase (°)</text><text x="11.00" y="859.50" font-size="32" text-anchor="start" font-weight="bold" fill="#000" >(c)</text></svg></body></html>
